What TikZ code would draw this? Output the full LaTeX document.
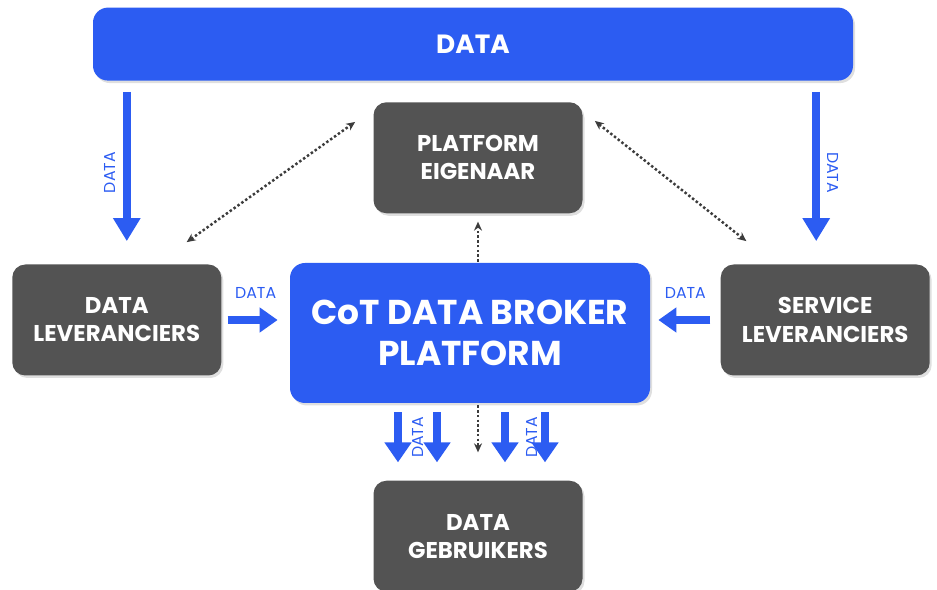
\documentclass[tikz,border=0pt]{standalone}
\usepackage{fontspec}
\setmainfont{Poppins}
\usepackage{tikz}
\usetikzlibrary{positioning,shapes.misc,arrows,arrows.meta,shadows}
\definecolor{cotBlue}{RGB}{44,92,242}
\definecolor{cotGrey}{RGB}{83,83,83}
\definecolor{dotGrey}{RGB}{60,60,60}
\tikzstyle{boxShadow} = [drop shadow={opacity=0.25, shadow xshift=0.04cm, shadow yshift=-0.05cm}]
\tikzstyle{tGreyRect} = [rectangle, rounded corners=0.26cm, fill=cotGrey, text=white, boxShadow, align=center, minimum width=4.18cm, minimum height=2.22cm, font=\bfseries\fontsize{13}{16}\selectfont]
\tikzstyle{tBlueRect} = [rectangle, rounded corners=0.3cm, fill=cotBlue, text=white, boxShadow, align=center]
\tikzstyle{dataArrow} = [cotBlue, line width=0.16cm, -{Triangle[width=0.52cm,length=0.46cm]}]
\tikzstyle{dotArrow} = [dotGrey, line width=1.4pt, dash pattern=on 1.4pt off 1.3pt, {Stealth[length=0.18cm,width=0.16cm]}-{Stealth[length=0.18cm,width=0.16cm]}]
\tikzstyle{dotOneWay} = [dotArrow, arrows={-Stealth[length=0.18cm,width=0.16cm]}]
\tikzstyle{tLabel} = [text=cotBlue, font=\fontsize{9}{10}\selectfont]

\begin{document}
\begin{tikzpicture}
    \useasboundingbox (0,0) rectangle (18.74,11.78);
    % boxes
    \node[tBlueRect, minimum width=7.2cm, minimum height=2.8cm, font=\bfseries\fontsize{19.6}{23.5}\selectfont] (Broker) at (9.40,5.12) {CoT DATA BROKER\\PLATFORM};
    \node[tGreyRect] (Platform) [above=0.98cm of Broker, xshift=0.16cm] {PLATFORM\\EIGENAAR};
    \node[tBlueRect, minimum width=15.2cm, minimum height=1.46cm, font=\bfseries\fontsize{15}{18}\selectfont] (DataBar) [above=0.42cm of Platform, xshift=-0.1cm] {DATA};
    \node[tGreyRect] (DataLev) [left=1.36cm of Broker, yshift=0.26cm] {DATA\\LEVERANCIERS};
    \node[tGreyRect] (ServiceLev) [right=1.4cm of Broker, yshift=0.26cm] {SERVICE\\LEVERANCIERS};
    \node[tGreyRect] (Gebruikers) [below=1.54cm of Broker, xshift=0.16cm] {DATA\\GEBRUIKERS};

    % data flows
    \draw[dataArrow, shorten <=0.22cm, shorten >=0.46cm] ([xshift=0.2cm]DataLev.north |- DataBar.south) -- ([xshift=0.2cm]DataLev.north)
        node[tLabel, midway, anchor=south, rotate=90, inner sep=0.14cm] {DATA};
    \draw[dataArrow, shorten <=0.22cm, shorten >=0.46cm] ([xshift=-0.18cm]ServiceLev.north |- DataBar.south) -- ([xshift=-0.18cm]ServiceLev.north)
        node[tLabel, midway, anchor=south, rotate=-90, inner sep=0.14cm] {DATA};
    \draw[dataArrow, -{Triangle[width=0.48cm,length=0.36cm]}, shorten <=0.12cm, shorten >=0.24cm] (DataLev.east) -- (DataLev.east -| Broker.west)
        node[tLabel, midway, above=0.24cm] {DATA};
    \draw[dataArrow, -{Triangle[width=0.48cm,length=0.36cm]}, shorten <=0.2cm, shorten >=0.16cm] (ServiceLev.west) -- (ServiceLev.west -| Broker.east)
        node[tLabel, midway, above=0.24cm] {DATA};
    \foreach \dx in {-1.44,-0.66,0.70,1.50}
        \draw[dataArrow, -{Triangle[width=0.52cm,length=0.4cm]}, shorten <=0.18cm, shorten >=0.36cm] ([xshift=\dx cm]Broker.south) -- ([xshift=\dx cm]Broker.south |- Gebruikers.north);
    \node[tLabel, rotate=90] (LabelA) at ([xshift=-1.04cm, yshift=-0.68cm]Broker.south) {DATA};
    \node[tLabel, rotate=90] (LabelB) at ([xshift=1.24cm, yshift=-0.68cm]Broker.south) {DATA};

    % owner links
    \draw[dotOneWay, shorten <=0.02cm, shorten >=0.16cm] (Platform.south |- Broker.north) -- (Platform.south);
    \draw[dotOneWay, shorten <=0.04cm, shorten >=0.56cm] (Gebruikers.north |- Broker.south) -- (Gebruikers.north);
    \draw[dotArrow] ([xshift=-0.7cm, yshift=0.44cm]DataLev.north east) -- ([xshift=-0.36cm, yshift=-0.4cm]Platform.north west);
    \draw[dotArrow] ([xshift=0.24cm, yshift=-0.38cm]Platform.north east) -- ([xshift=0.52cm, yshift=0.46cm]ServiceLev.north west);
\end{tikzpicture}
\end{document}
